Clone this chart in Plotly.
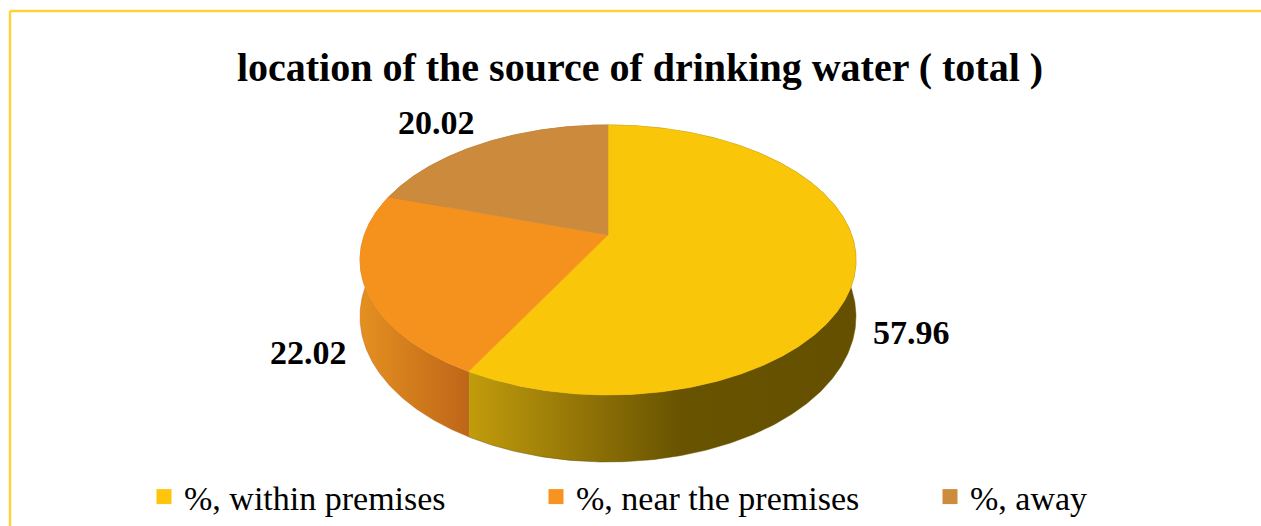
import numpy as np
import plotly.graph_objects as go

# ---------------- data ----------------
categories = ["%, within premises", "%, near the premises", "%, away"]
values = [57.96, 22.02, 20.02]
title_text = "location of the source of drinking water ( total )"

# ---------------- styles ----------------
top_colors = ["#FAC60A", "#F5921E", "#CB8A3C"]
legend_colors = ["#FFC40C", "#F7931E", "#CD8B3C"]
side_scales = [
    [[0, "rgb(194,156,12)"], [0.34, "rgb(138,110,6)"], [0.55, "rgb(104,83,0)"], [1, "rgb(100,80,0)"]],
    [[0, "rgb(228,144,32)"], [1, "rgb(190,102,24)"]],
    [[0, "rgb(170,110,40)"], [1, "rgb(150,95,35)"]],
]
legend_left_px = [144, 536, 930]
W, HGT = 1261, 526
SERIF = "Liberation Serif, Times New Roman, serif"

# 3D pie geometry (pixel-like axis units)
CX, CY = 608, 235      # apex of slices (centre of the disc top)
RX, RY = 243.7, 130.4  # radii before perspective
K = 0.185              # perspective strength
DEPTH = 54.6           # thickness of the disc


def proj(r, phi_deg, z=0.0):
    phi = np.radians(phi_deg)
    u = r * np.sin(phi)
    v = -r * np.cos(phi)
    den = 1 - K * v
    return CX + RX * u / den, CY + (RY * v + DEPTH * z) / den


fig = go.Figure()

total = float(sum(values))
bounds = np.concatenate([[0], np.cumsum(values) / total * 360.0])

side_traces = []
top_traces = []
for i, val in enumerate(values):
    a, b = bounds[i], bounds[i + 1]
    n = max(int((b - a) * 2), 4)
    phis = np.linspace(a, b, n)
    tx, ty = proj(1.0, phis, 0)
    bx, by = proj(1.0, phis, 1)
    side_traces.append(go.Scatter(
        x=np.concatenate([tx, bx[::-1], tx[:1]]),
        y=np.concatenate([ty, by[::-1], ty[:1]]),
        mode="lines", fill="toself",
        line=dict(width=0.5, color=side_scales[i][-1][1]),
        fillgradient=dict(type="horizontal", colorscale=side_scales[i]),
        hoverinfo="skip", showlegend=False,
    ))
    top_traces.append(go.Scatter(
        x=np.concatenate([[CX], tx, [CX]]),
        y=np.concatenate([[CY], ty, [CY]]),
        mode="lines", fill="toself", fillcolor=top_colors[i],
        line=dict(width=0.6, color=top_colors[i]),
        hoverinfo="skip", showlegend=False,
    ))

for i in [2, 0, 1]:
    fig.add_trace(side_traces[i])
for t in top_traces:
    fig.add_trace(t)

# legend entries, one legend each so they can sit at their own spots
legend_layout = {}
for i, name in enumerate(categories):
    lname = "legend" if i == 0 else f"legend{i + 1}"
    fig.add_trace(go.Scatter(
        x=[None], y=[None], mode="markers", name=name, legend=lname,
        marker=dict(symbol="square", size=15, color=legend_colors[i]),
        hoverinfo="skip",
    ))
    legend_layout[lname] = dict(
        orientation="h", x=legend_left_px[i] / W, xanchor="left",
        y=0, yanchor="bottom",
        font=dict(family=SERIF, size=34, color="black"),
        itemwidth=30, bgcolor="rgba(0,0,0,0)",
    )

annotations = []
for i, val in enumerate(values):
    mid = (bounds[i] + bounds[i + 1]) / 2
    v = -np.cos(np.radians(mid))
    front = v > 0
    lx, ly = proj(1.06, mid, 1 if front else 0)
    annotations.append(dict(
        x=float(lx), y=float(ly), xref="x", yref="y",
        text=f"{val:.2f}", showarrow=False,
        xanchor="left" if np.sin(np.radians(mid)) > 0 else "right",
        yanchor="middle" if front else "bottom",
        yshift=-4,
        font=dict(family=SERIF, size=34, color="black", weight="bold"),
    ))

fig.update_layout(
    width=W, height=HGT,
    margin=dict(l=0, r=0, t=0, b=0),
    paper_bgcolor="white", plot_bgcolor="white",
    xaxis=dict(range=[0, W], visible=False, fixedrange=True),
    yaxis=dict(range=[HGT, 0], visible=False, fixedrange=True),
    title=dict(
        text=title_text, x=640 / W, xanchor="center",
        y=1 - 67 / HGT, yanchor="middle",
        font=dict(family=SERIF, size=40, color="black", weight="bold"),
    ),
    annotations=annotations,
    shapes=[
        dict(type="line", xref="paper", yref="paper",
             x0=10 / W, x1=1, y0=1 - 11 / HGT, y1=1 - 11 / HGT,
             line=dict(color="#FFD13B", width=2.5)),
        dict(type="line", xref="paper", yref="paper",
             x0=10 / W, x1=10 / W, y0=0, y1=1 - 11 / HGT,
             line=dict(color="#FFD13B", width=2.5)),
    ],
    showlegend=True,
    **legend_layout,
)

fig.write_html("out.html")
